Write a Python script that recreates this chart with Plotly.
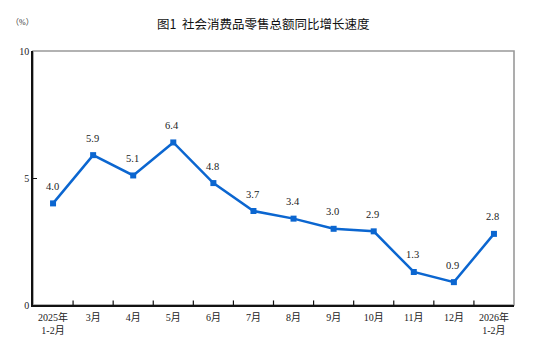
import plotly.graph_objects as go

categories = ["2025年<br>1-2月", "3月", "4月", "5月", "6月", "7月", "8月", "9月", "10月", "11月", "12月", "2026年<br>1-2月"]
values = [4.0, 5.9, 5.1, 6.4, 4.8, 3.7, 3.4, 3.0, 2.9, 1.3, 0.9, 2.8]
labels = [f"{v:.1f}" for v in values]

serif = "Liberation Serif, Times New Roman, Noto Sans CJK SC"
blue = "#0b66d0"

L, R, T, B = 33, 514, 51, 305
W, H = 552, 354

fig = go.Figure()
fig.add_trace(go.Scatter(
    x=list(range(len(categories))), y=values, mode="lines+markers",
    line=dict(color=blue, width=2.5),
    marker=dict(symbol="square", size=6, color=blue),
    cliponaxis=False, showlegend=False,
))

fig.add_shape(type="rect", xref="paper", yref="paper", x0=0, y0=0, x1=1, y1=1,
              line=dict(color="#999", width=1.6), layer="below")

annotations = []
for i, (v, lab) in enumerate(zip(values, labels)):
    annotations.append(dict(x=i, y=v, xref="x", yref="y", text=lab, showarrow=False,
                            yshift=17, xshift=-1, xanchor="center", yanchor="middle",
                            font=dict(family=serif, size=10.5, color="#222")))
annotations += [
    dict(text="图1  社会消费品零售总额同比增长速度", xref="paper", yref="paper",
         x=(263 - L) / (R - L), y=1 + (T - 24) / (B - T), xanchor="center", yanchor="middle",
         showarrow=False, font=dict(family="Noto Sans CJK SC", size=12.5, color="#111")),
    dict(text="（%）", xref="paper", yref="paper",
         x=(22 - L) / (R - L), y=1 + (T - 23) / (B - T), xanchor="center", yanchor="middle",
         showarrow=False, font=dict(family=serif, size=8, color="#333")),
]

fig.update_layout(
    width=W, height=H,
    margin=dict(l=L, r=W - R, t=T, b=H - B),
    plot_bgcolor="white", paper_bgcolor="white",
    xaxis=dict(
        tickmode="array", tickvals=list(range(len(categories))), ticktext=categories,
        range=[-0.5, len(categories) - 0.5],
        showgrid=False, zeroline=False, showline=True, linecolor="#111", linewidth=1.6,
        ticks="", ticklabelstandoff=2, tickfont=dict(family=serif, size=10, color="#222"),
    ),
    yaxis=dict(
        range=[0, 10], tickvals=[0, 5, 10], showgrid=False, zeroline=False,
        showline=True, linecolor="#111", linewidth=1.6,
        ticks="inside", ticklen=4, tickcolor="#111",
        tickfont=dict(family=serif, size=10, color="#222"),
    ),
    annotations=annotations,
)

# inside tick marks at category boundaries on the x axis
for b in range(1, len(categories)):
    fig.add_shape(type="line", xref="x", yref="paper", x0=b - 0.5, x1=b - 0.5, y0=0, y1=0.018,
                  line=dict(color="#111", width=1.2))

fig.write_html("out.html")
